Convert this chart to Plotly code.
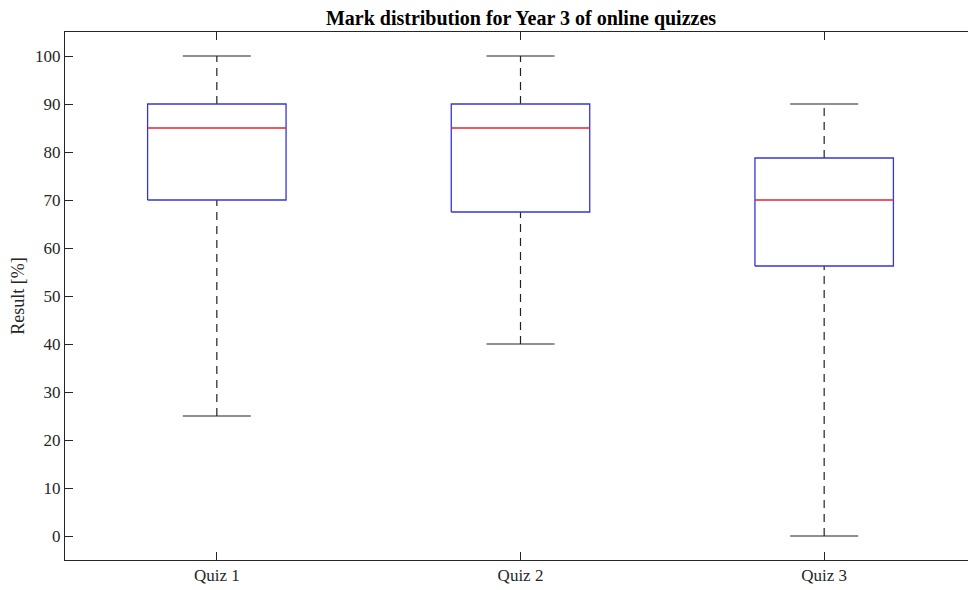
import plotly.graph_objects as go

categories = ["Quiz 1", "Quiz 2", "Quiz 3"]
lower_whisker = [25, 40, 0]
q1 = [70, 67.5, 56.25]
median = [85, 85, 70]
q3 = [90, 90, 78.75]
upper_whisker = [100, 100, 90]
y_ticks = [0, 10, 20, 30, 40, 50, 60, 70, 80, 90, 100]

BOX_HW = 0.228
CAP_HW = 0.112
font_family = "Liberation Serif, Times New Roman, serif"

positions = list(range(1, len(categories) + 1))

box_x, box_y = [], []
med_x, med_y = [], []
wh_x, wh_y = [], []
cap_x, cap_y = [], []
for p, lo, a, m, b, hi in zip(positions, lower_whisker, q1, median, q3, upper_whisker):
    box_x += [p - BOX_HW, p + BOX_HW, p + BOX_HW, p - BOX_HW, p - BOX_HW, None]
    box_y += [a, a, b, b, a, None]
    med_x += [p - BOX_HW, p + BOX_HW, None]
    med_y += [m, m, None]
    wh_x += [p, p, None, p, p, None]
    wh_y += [b, hi, None, lo, a, None]
    cap_x += [p - CAP_HW, p + CAP_HW, None, p - CAP_HW, p + CAP_HW, None]
    cap_y += [hi, hi, None, lo, lo, None]

fig = go.Figure()
fig.add_trace(go.Scatter(x=wh_x, y=wh_y, mode="lines",
                         line=dict(color="#222222", width=1.2, dash="8px,6px"),
                         hoverinfo="skip", showlegend=False))
fig.add_trace(go.Scatter(x=cap_x, y=cap_y, mode="lines",
                         line=dict(color="#222222", width=1.2),
                         hoverinfo="skip", showlegend=False))
fig.add_trace(go.Scatter(x=box_x, y=box_y, mode="lines",
                         line=dict(color="#3636d4", width=1.3),
                         hoverinfo="skip", showlegend=False))
fig.add_trace(go.Scatter(x=med_x, y=med_y, mode="lines",
                         line=dict(color="#e8202a", width=1.3),
                         hoverinfo="skip", showlegend=False))

axis_common = dict(showline=True, linecolor="#262626", linewidth=1,
                   mirror="ticks", ticks="inside", ticklen=8,
                   tickcolor="#262626", tickwidth=1, showgrid=False,
                   zeroline=False,
                   tickfont=dict(family=font_family, size=17, color="#262626"))

W, H = 968, 582
fig.update_layout(
    width=W, height=H,
    margin=dict(l=57, r=0, t=24, b=30),
    paper_bgcolor="white", plot_bgcolor="white",
    title=dict(text="<b>Mark distribution for Year 3 of online quizzes</b>",
               x=513 / W, xanchor="center",
               y=1 - 10 / H, yanchor="middle",
               font=dict(family=font_family, size=20, color="#000000")),
    xaxis=dict(range=[0.5, 3.5], tickvals=positions, ticktext=categories,
               **axis_common),
    yaxis=dict(range=[-5, 105], tickvals=y_ticks,
               title=dict(text="Result [%]", standoff=6,
                          font=dict(family=font_family, size=18, color="#262626")),
               **axis_common),
)

fig.write_html("out.html")
